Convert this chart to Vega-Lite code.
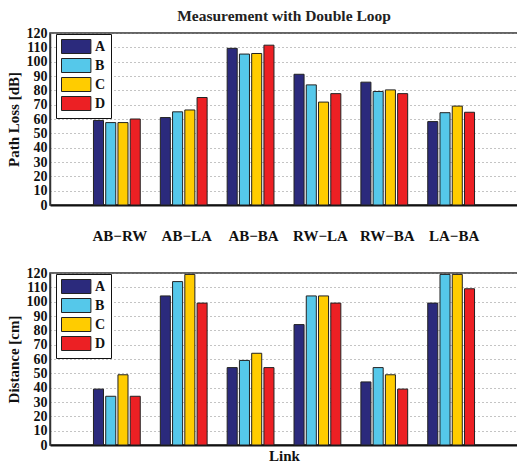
{
  "$schema": "https://vega.github.io/schema/vega-lite/v6.json",
  "padding": {"left": 5, "top": 7, "right": 0, "bottom": 0},
  "background": "white",
  "config": {
    "font": "Liberation Serif",
    "view": {"stroke": "#333333", "strokeWidth": 1.5},
    "title": {"font": "Liberation Serif", "fontSize": 15.5, "fontWeight": "bold", "color": "#222222"},
    "axis": {
      "labelFont": "Liberation Serif", "labelFontSize": 14, "labelFontWeight": "bold", "labelColor": "#111111",
      "titleFont": "Liberation Serif", "titleFontSize": 15, "titleFontWeight": "bold", "titleColor": "#111111"
    },
    "legend": {
      "labelFont": "Liberation Serif", "labelFontSize": 14, "labelFontWeight": "bold", "labelColor": "#111111"
    },
    "concat": {"spacing": 21}
  },
  "data": {
    "values": [
      {"link": "AB−RW", "series": "A", "path_loss": 59, "distance": 39},
      {"link": "AB−RW", "series": "B", "path_loss": 57.5, "distance": 34},
      {"link": "AB−RW", "series": "C", "path_loss": 57.5, "distance": 49},
      {"link": "AB−RW", "series": "D", "path_loss": 60, "distance": 34},
      {"link": "AB−LA", "series": "A", "path_loss": 61, "distance": 104},
      {"link": "AB−LA", "series": "B", "path_loss": 65, "distance": 114},
      {"link": "AB−LA", "series": "C", "path_loss": 66.3, "distance": 119},
      {"link": "AB−LA", "series": "D", "path_loss": 75, "distance": 99},
      {"link": "AB−BA", "series": "A", "path_loss": 109.3, "distance": 54},
      {"link": "AB−BA", "series": "B", "path_loss": 105.3, "distance": 59},
      {"link": "AB−BA", "series": "C", "path_loss": 105.7, "distance": 64},
      {"link": "AB−BA", "series": "D", "path_loss": 111.5, "distance": 54},
      {"link": "RW−LA", "series": "A", "path_loss": 91.2, "distance": 84},
      {"link": "RW−LA", "series": "B", "path_loss": 83.8, "distance": 104},
      {"link": "RW−LA", "series": "C", "path_loss": 71.8, "distance": 104},
      {"link": "RW−LA", "series": "D", "path_loss": 77.7, "distance": 99},
      {"link": "RW−BA", "series": "A", "path_loss": 85.7, "distance": 44},
      {"link": "RW−BA", "series": "B", "path_loss": 79.2, "distance": 54},
      {"link": "RW−BA", "series": "C", "path_loss": 80.3, "distance": 49},
      {"link": "RW−BA", "series": "D", "path_loss": 77.7, "distance": 39},
      {"link": "LA−BA", "series": "A", "path_loss": 58.2, "distance": 99},
      {"link": "LA−BA", "series": "B", "path_loss": 64.4, "distance": 119},
      {"link": "LA−BA", "series": "C", "path_loss": 69, "distance": 119},
      {"link": "LA−BA", "series": "D", "path_loss": 64.7, "distance": 109}
    ]
  },
  "resolve": {"scale": {"color": "independent"}, "legend": {"color": "independent"}},
  "vconcat": [
    {
      "title": {"text": "Measurement with Double Loop", "offset": 2},
      "width": 468,
      "height": 172,
      "mark": {"type": "bar", "stroke": "#222222", "strokeWidth": 1},
      "encoding": {
        "x": {
          "field": "link", "type": "nominal",
          "sort": ["AB−RW", "AB−LA", "AB−BA", "RW−LA", "RW−BA", "LA−BA"],
          "scale": {"paddingInner": 0.3, "paddingOuter": 0.65},
          "axis": {
            "title": null, "labelAngle": 0, "labelPadding": 23, "labelFontSize": 15, "labelOffset": 3,
            "ticks": false, "domainColor": "#111111", "domainWidth": 2
          }
        },
        "xOffset": {
          "field": "series", "type": "nominal",
          "scale": {"paddingInner": 0.18, "paddingOuter": 0}
        },
        "y": {
          "field": "path_loss", "type": "quantitative",
          "scale": {"domain": [0, 120], "nice": false},
          "axis": {
            "title": "Path Loss [dB]", "values": [0, 10, 20, 30, 40, 50, 60, 70, 80, 90, 100, 110, 120],
            "ticks": false, "labelPadding": 3, "titlePadding": 5,
            "domainColor": "#333333", "domainWidth": 1.5,
            "gridColor": "#888888", "gridDash": [1, 3], "gridWidth": 1
          }
        },
        "color": {
          "field": "series", "type": "nominal",
          "scale": {"domain": ["A", "B", "C", "D"], "range": ["#2b2a7c", "#55c8ea", "#ffcc00", "#ec2024"]},
          "legend": {
            "title": null, "orient": "none", "legendX": 6, "legendY": 1,
            "fillColor": "white", "strokeColor": "#111111",
            "padding": 5, "symbolType": "M-1,-1H3.2V1H-1Z", "symbolSize": 196,
            "symbolStrokeColor": "#222222", "symbolStrokeWidth": 1, "symbolOpacity": 1,
            "labelOffset": 19, "rowPadding": 0
          }
        }
      }
    },
    {
      "width": 468,
      "height": 172,
      "mark": {"type": "bar", "stroke": "#222222", "strokeWidth": 1},
      "encoding": {
        "x": {
          "field": "link", "type": "nominal",
          "sort": ["AB−RW", "AB−LA", "AB−BA", "RW−LA", "RW−BA", "LA−BA"],
          "scale": {"paddingInner": 0.3, "paddingOuter": 0.65},
          "axis": {
            "title": "Link", "titleFontSize": 15, "labels": false, "ticks": false, "titlePadding": 3,
            "domainColor": "#111111", "domainWidth": 2
          }
        },
        "xOffset": {
          "field": "series", "type": "nominal",
          "scale": {"paddingInner": 0.18, "paddingOuter": 0}
        },
        "y": {
          "field": "distance", "type": "quantitative",
          "scale": {"domain": [0, 120], "nice": false},
          "axis": {
            "title": "Distance [cm]", "values": [0, 10, 20, 30, 40, 50, 60, 70, 80, 90, 100, 110, 120],
            "ticks": false, "labelPadding": 3, "titlePadding": 5,
            "domainColor": "#333333", "domainWidth": 1.5,
            "gridColor": "#888888", "gridDash": [1, 3], "gridWidth": 1
          }
        },
        "color": {
          "field": "series", "type": "nominal",
          "scale": {"domain": ["A", "B", "C", "D"], "range": ["#2b2a7c", "#55c8ea", "#ffcc00", "#ec2024"]},
          "legend": {
            "title": null, "orient": "none", "legendX": 6, "legendY": 1,
            "fillColor": "white", "strokeColor": "#111111",
            "padding": 5, "symbolType": "M-1,-1H3.2V1H-1Z", "symbolSize": 196,
            "symbolStrokeColor": "#222222", "symbolStrokeWidth": 1, "symbolOpacity": 1,
            "labelOffset": 19, "rowPadding": 0
          }
        }
      }
    }
  ]
}
